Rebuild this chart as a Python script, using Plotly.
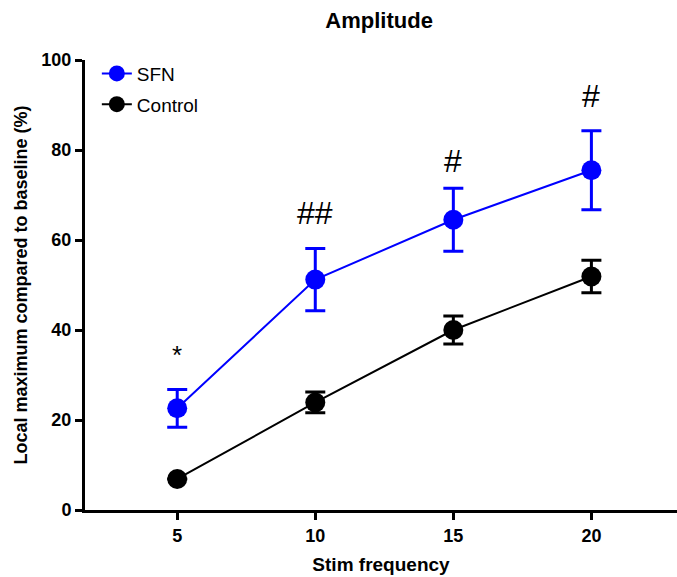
import plotly.graph_objects as go

freq = [5, 10, 15, 20]
sfn_mean = [22.6, 51.2, 64.5, 75.5]
sfn_err = [4.2, 6.9, 7.0, 8.8]
ctrl_mean = [6.9, 23.9, 40.0, 51.9]
ctrl_err = [0.0, 2.3, 3.1, 3.6]
sig_labels = ["*", "##", "#", "#"]
sig_y = [34.5, 66.0, 77.5, 92.0]
yticks = [0, 20, 40, 60, 80, 100]
xticks = [5, 10, 15, 20]

FONT = "Liberation Sans, Arial, sans-serif"

fig = go.Figure()
fig.add_trace(go.Scatter(
    x=freq, y=sfn_mean, name="SFN", mode="lines+markers", legendgroup="a",
    line=dict(color="#0000FF", width=2),
    marker=dict(color="#0000FF", size=20),
    error_y=dict(type="data", array=sfn_err, color="#0000FF", thickness=3, width=10),
))
fig.add_trace(go.Scatter(
    x=freq, y=ctrl_mean, name="Control", mode="lines+markers", legendgroup="b",
    line=dict(color="#000000", width=2),
    marker=dict(color="#000000", size=20),
    error_y=dict(type="data", array=ctrl_err, color="#000000", thickness=3, width=10),
))

for xv, yv, t in zip(freq, sig_y, sig_labels):
    fig.add_annotation(x=xv, y=yv, text=t, showarrow=False,
                       font=dict(family=FONT, size=32 if t != "*" else 26, color="black"))

fig.update_layout(
    width=677, height=577,
    margin=dict(l=85, r=0, t=60, b=67),
    plot_bgcolor="white", paper_bgcolor="white",
    font=dict(family=FONT, color="black"),
    title=dict(text="<b>Amplitude</b>", x=0.56, xanchor="center", y=0.965, yanchor="middle",
               font=dict(size=22, family=FONT)),
    showlegend=True,
    legend=dict(x=0.02, y=1.012, xanchor="left", yanchor="top", bgcolor="rgba(0,0,0,0)",
                font=dict(size=19, family=FONT), itemsizing="trace",
                traceorder="grouped", tracegroupgap=3),
)
fig.update_xaxes(range=[1.66, 23.1], tickvals=xticks, ticktext=[f"<b>{v}</b>" for v in xticks],
                 showline=True, linecolor="black", linewidth=3, ticks="outside", ticklen=7,
                 tickwidth=3, tickcolor="black", showgrid=False, zeroline=False,
                 tickfont=dict(size=18, family=FONT),
                 title=dict(text="<b>Stim frequency</b>", font=dict(size=19, family=FONT), standoff=14))
fig.update_yaxes(range=[0, 100], tickvals=yticks, ticktext=[f"<b>{v}</b>" for v in yticks],
                 showline=True, linecolor="black", linewidth=3, ticks="outside", ticklen=7,
                 tickwidth=3, tickcolor="black", showgrid=False, zeroline=False,
                 tickfont=dict(size=18, family=FONT),
                 title=dict(text="<b>Local maximum compared to baseline (%)</b>",
                            font=dict(size=18, family=FONT), standoff=10))

fig.write_html("out.html")
